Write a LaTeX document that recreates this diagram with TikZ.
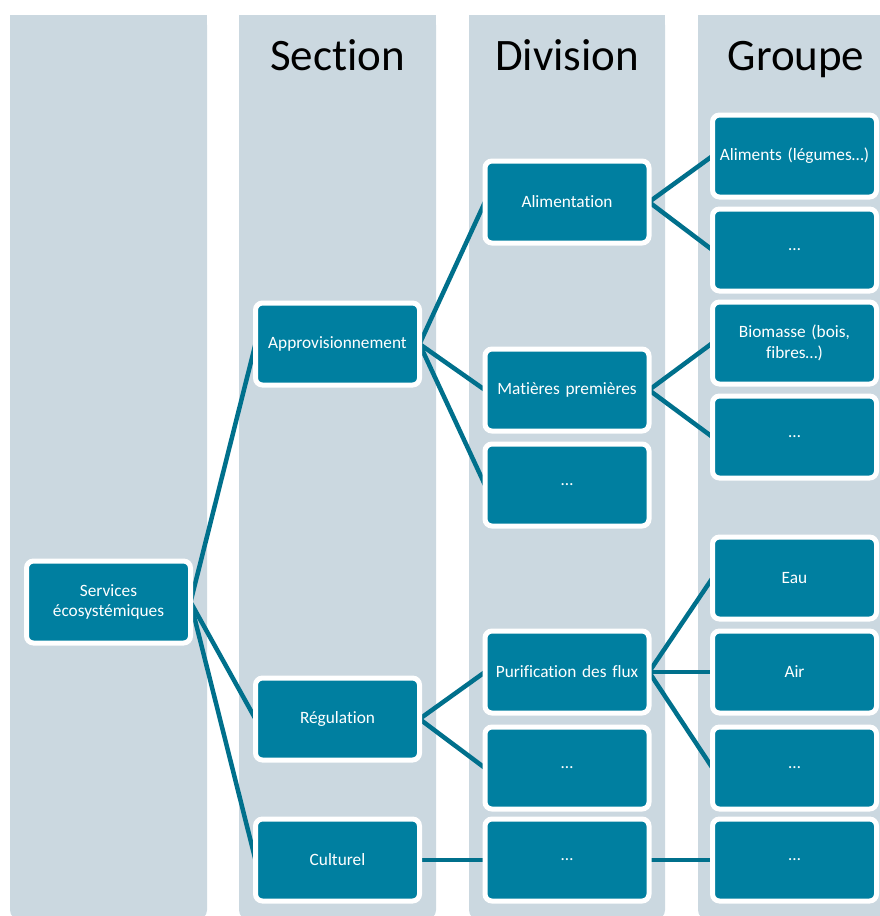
\documentclass[tikz,border=0pt]{standalone}
\usepackage{fontspec}
\setmainfont{Carlito}[Ligatures=NoCommon]
\definecolor{boxc}{RGB}{0,127,160}
\definecolor{linec}{RGB}{0,112,140}
\definecolor{colc}{RGB}{203,216,224}
\pgfdeclarelayer{bg}
\pgfdeclarelayer{lines}
\pgfsetlayers{bg,lines,main}
\begin{document}
\begin{tikzpicture}[x=1pt,y=-1pt,
  box/.style={draw=white, line width=5pt, fill=boxc, rounded corners=7pt,
    minimum width=164pt, minimum height=82pt, inner sep=0pt, outer sep=0pt,
    text=white, font=\fontsize{17.3}{20.5}\selectfont, align=center, text width=156pt},
  link/.style={draw=linec, line width=4.5pt},
  colbg/.style={fill=colc},
  head/.style={font=\fontsize{45}{50}\selectfont, anchor=base, text=black}]
\useasboundingbox (0,0) rectangle (880,916);
% columns
\begin{pgfonlayer}{bg}
  \begin{scope}
    \clip (0,0) rectangle (880,916);
    \foreach \xa/\xb in {10/207, 239/436, 469/665, 698/895} {
      \fill[colbg, rounded corners=10pt] (\xa,15) rectangle (\xb,920);
      \fill[colbg] (\xa,15) rectangle (\xb,100);
    }
  \end{scope}
\end{pgfonlayer}
% headers
\node[head] (hsec) at (337.5,70) {Section};
\node[head] (hdiv) at (567,70) {Division};
\node[head] (hgrp) at (796,70) {Groupe};
% level 0
\node[box] (svc) at (108.5,602) {Services\\écosystémiques};
% sections
\node[box] (appro) at (337.5,344) {Approvisionnement};
\node[box] (regul) at (337.5,719) {Régulation};
\node[box] (cult)  at (337.5,860) {Culturel};
% divisions
\node[box] (alim)  at (567,202) {Alimentation};
\node[box] (matp)  at (567,390) {Matières premières};
\node[box] (dthree) at (567,485) {…};
\node[box] (purif) at (567,672) {Purification des flux};
\node[box] (dfive) at (567,768) {…};
\node[box] (dsix)  at (567,860) {…};
% groups
\node[box] (gone)   at (794.5,156) {Aliments (légumes…)};
\node[box] (gtwo)   at (794.5,250) {…};
\node[box] (gthree) at (794.5,343) {Biomasse (bois,\\fibres…)};
\node[box] (gfour)  at (794.5,437) {…};
\node[box] (gfive)  at (794.5,578) {Eau};
\node[box] (gsix)   at (794.5,672) {Air};
\node[box] (gseven) at (794.5,768) {…};
\node[box] (geight) at (794.5,860) {…};
% connectors
\begin{pgfonlayer}{lines}
  \draw[link] (svc.east) -- (appro.west);
  \draw[link] (svc.east) -- (regul.west);
  \draw[link] (svc.east) -- (cult.west);
  \draw[link] (appro.east) -- (alim.west);
  \draw[link] (appro.east) -- (matp.west);
  \draw[link] (appro.east) -- (dthree.west);
  \draw[link] (regul.east) -- (purif.west);
  \draw[link] (regul.east) -- (dfive.west);
  \draw[link] (cult.east) -- (dsix.west);
  \draw[link] (alim.east) -- (gone.west);
  \draw[link] (alim.east) -- (gtwo.west);
  \draw[link] (matp.east) -- (gthree.west);
  \draw[link] (matp.east) -- (gfour.west);
  \draw[link] (purif.east) -- (gfive.west);
  \draw[link] (purif.east) -- (gsix.west);
  \draw[link] (purif.east) -- (gseven.west);
  \draw[link] (dsix.east) -- (geight.west);
\end{pgfonlayer}
\end{tikzpicture}
\end{document}
